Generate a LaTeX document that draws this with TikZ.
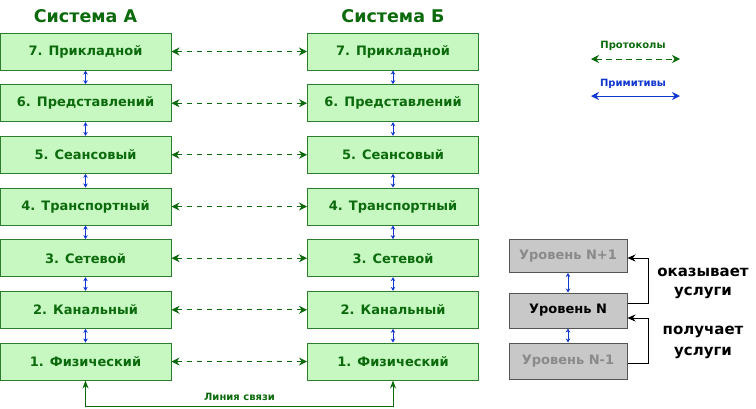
\documentclass[tikz,border=0pt]{standalone}
\usepackage{fontspec}
\setmainfont{DejaVu Sans}
\usetikzlibrary{arrows.meta}
\definecolor{gtext}{HTML}{0B6A0B}
\definecolor{gline}{HTML}{2E7D2E}
\definecolor{gfill}{HTML}{C8F8C2}
\definecolor{btext}{HTML}{1038D0}
\definecolor{grfill}{HTML}{C8C8C8}
\definecolor{grline}{HTML}{555555}
\definecolor{grtext}{HTML}{8A8A8A}
\tikzset{
  layer/.style={draw=gline, fill=gfill, line width=1pt, minimum width=171pt, minimum height=37pt,
    inner sep=0pt, text=gtext, font=\fontsize{13}{15}\selectfont\bfseries},
  graybox/.style={draw=grline, fill=grfill, line width=1pt, minimum width=118pt,
    inner sep=0pt, font=\fontsize{13}{15}\selectfont\bfseries},
  title/.style={text=gtext, font=\fontsize{17.5}{20}\selectfont\bfseries},
  proto/.style={draw=gtext, line width=0.9pt, dash pattern=on 5.5pt off 4.5pt,
    {Stealth[length=8pt,width=8pt]}-{Stealth[length=8pt,width=8pt]}},
  prim/.style={draw=btext, line width=0.9pt,
    {Stealth[length=4pt,width=4.5pt]}-{Stealth[length=4pt,width=4.5pt]}},
  primleg/.style={draw=btext, line width=1pt,
    {Stealth[length=8pt,width=8pt]}-{Stealth[length=8pt,width=8pt]}},
  link/.style={draw=gtext, line width=1pt,
    {Stealth[length=8pt,width=6pt]}-{Stealth[length=8pt,width=6pt]}},
  serv/.style={draw=black, line width=1pt, -{Stealth[length=8pt,width=7pt]}},
  small/.style={font=\fontsize{10}{12}\selectfont\bfseries},
  side/.style={font=\fontsize{15}{17}\selectfont\bfseries, text=black}
}
\begin{document}
\begin{tikzpicture}[x=1pt,y=-1pt]
\useasboundingbox (0,0) rectangle (756,408);
\fill[white] (0,0) rectangle (756,408);
% titles
\node[title] (ta) at (85.5,16) {Система А};
\node[title] (tb) at (393,16) {Система Б};
% layers
\foreach \i/\t in {7/Прикладной,6/Представлений,5/Сеансовый,4/Транспортный,3/Сетевой,2/Канальный,1/Физический}{
  \pgfmathsetmacro{\yy}{51.5+(7-\i)*51.67}
  \node[layer] (a\i) at (85.5,\yy) {\i. \t};
  \node[layer] (b\i) at (393,\yy) {\i. \t};
  \draw[proto] (a\i) -- (b\i);
}
\foreach \i/\j in {7/6,6/5,5/4,4/3,3/2,2/1}{
  \draw[prim] (a\i.south) -- (a\j.north);
  \draw[prim] (b\i.south) -- (b\j.north);
}
% link line
\coordinate (lk) at (0,406);
\draw[link] (a1.south) -- (a1.south |- lk) -- (b1.south |- lk) -- (b1.south);
\node[small, text=gtext] (ll) at (239.5,397) {Линия связи};
% legend
\node[small, text=gtext] (lp) at (633,46) {Протоколы};
\coordinate (p1) at (591,59);
\coordinate (p2) at (680,59);
\draw[proto] (p1) -- (p2);
\node[small, text=btext] (lq) at (633,84) {Примитивы};
\coordinate (q1) at (591,96);
\coordinate (q2) at (680,96);
\draw[primleg] (q1) -- (q2);
% gray boxes
\node[graybox, minimum height=33pt, text=grtext] (np) at (568,256) {Уровень N+1};
\node[graybox, minimum height=35pt, text=black] (n) at (568,310.5) {Уровень N};
\node[graybox, minimum height=36pt, text=grtext] (nm) at (568,361) {Уровень N-1};
\draw[prim] (np.south) -- (n.north);
\draw[prim] (n.south) -- (nm.north);
\coordinate (c1) at (648,258);
\coordinate (c2) at (648,318);
\draw[serv] ([yshift=7.5pt]n.east) -| (c1) -- (c1 -| np.east);
\draw[serv] ([yshift=-2pt]nm.east) -| (c2) -- (c2 -| n.east);
\node[side] (s1) at (703,272) {оказывает};
\node[side] (s2) at (703,293) {услуги};
\node[side] (s3) at (703,332) {получает};
\node[side] (s4) at (703,353) {услуги};
\end{tikzpicture}
\end{document}
